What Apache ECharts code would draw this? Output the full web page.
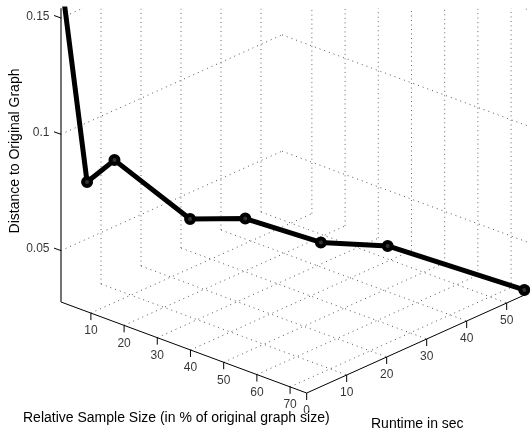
<!DOCTYPE html>
<html>
<head>
<meta charset="utf-8">
<title>Distance to Original Graph</title>
<script src="https://cdn.jsdelivr.net/npm/echarts@6/dist/echarts.min.js"></script>
<style>
	* { margin: 0; padding: 0 }
	html, body { width: 100%; height: 100%; background: #fff; }
	#main { width: 530px; height: 432px; }
</style>
</head>
<body>
<div id="main"></div>
<script>
var sampleSize = [1, 5, 10, 20, 30, 40, 50, 75];
var runtime = [0.5, 3.2, 5.9, 16.5, 22, 32.6, 41, 54.4];
var distance = [0.1604, 0.0791, 0.0891, 0.0609, 0.0621, 0.0489, 0.0462, 0.0301];

var xTicks = [10, 20, 30, 40, 50, 60, 70];
var yTicks = [0, 10, 20, 30, 40, 50];
var zTicks = [0.05, 0.1, 0.15];
var xRange = [1, 75];
var yRange = [0, 55.25];
var zRange = [0.0279, 0.1604];

var xTitle = 'Relative Sample Size (in % of original graph size)';
var yTitle = 'Runtime in sec';
var zTitle = 'Distance to Original Graph';

// the view is a fixed oblique projection, matlab style
function project(x, y, z) {
	return [
		61 + (x - xRange[0]) * 3.32 + y * 4,
		302 + (x - xRange[0]) * 1.23 - y * 1.8 - (z - zRange[0]) * 2326
	];
}

var series = [];

function addLine(a, b, style, z) {
	series.push({
		type: 'line',
		data: [a, b],
		showSymbol: false,
		silent: true,
		z: z,
		lineStyle: style
	});
}

function addLabels(items, position) {
	series.push({
		type: 'scatter',
		data: items,
		symbolSize: 1,
		silent: true,
		z: 5,
		itemStyle: { color: 'transparent' },
		label: {
			show: true,
			position: position,
			distance: 0,
			fontFamily: 'Liberation Sans',
			fontSize: 12,
			color: '#000',
			formatter: function(p) { return p.value[2]; }
		}
	});
}

var dots = { color: '#555', width: 1, type: [1, 4] };
var dotsV = { color: '#666', width: 1, type: [1, 3.5] };
var solid = { color: '#000', width: 1 };
var xMin = xRange[0], xMax = xRange[1], yMax = yRange[1], zMin = zRange[0], zMax = zRange[1];

// floor and the two back walls
xTicks.forEach(function(x) {
	addLine(project(x, 0, zMin), project(x, yMax, zMin), dots, 1);
	addLine(project(x, yMax, zMin), project(x, yMax, zMax), dotsV, 1);
});
yTicks.slice(1).forEach(function(y) {
	addLine(project(xMin, y, zMin), project(xMax, y, zMin), dots, 1);
	addLine(project(xMin, y, zMin), project(xMin, y, zMax), dotsV, 1);
});
zTicks.forEach(function(z) {
	addLine(project(xMin, 0, z), project(xMin, yMax, z), dots, 1);
	addLine(project(xMin, yMax, z), project(xMax, yMax, z), dots, 1);
});

// axis lines
addLine(project(xMin, 0, zMin), project(xMax, 0, zMin), solid, 2);
addLine(project(xMax, 0, zMin), project(xMax, yMax, zMin), solid, 2);
addLine(project(xMin, 0, zMin), project(xMin, 0, zMax), { color: '#444', width: 1.5 }, 2);

// ticks and their labels
var xLabels = [], yLabels = [], zLabels = [];
xTicks.forEach(function(x) {
	var p = project(x, 0, zMin);
	addLine(p, [p[0], p[1] + 7], solid, 2);
	xLabels.push([p[0], p[1] + 18, String(x)]);
});
yTicks.forEach(function(y) {
	var p = project(xMax, y, zMin);
	addLine(p, [p[0], p[1] + 7], solid, 2);
	yLabels.push([p[0], p[1] + 18, String(y)]);
});
zTicks.forEach(function(z) {
	var p = project(xMin, 0, z);
	addLine(p, [p[0] - 7, p[1] - 2.5], solid, 2);
	zLabels.push([p[0] - 11, p[1] - 1.5, String(z)]);
});
addLabels(xLabels, 'inside');
addLabels(yLabels, 'inside');
addLabels(zLabels, 'left');

// the measured curve
var curve = sampleSize.map(function(x, i) {
	return project(x, runtime[i], distance[i]);
});
series.push({
	type: 'line',
	data: curve,
	symbol: 'circle',
	symbolSize: 8,
	showAllSymbol: true,
	silent: true,
	z: 10,
	lineStyle: { color: '#000', width: 5 },
	itemStyle: { color: '#333', borderColor: '#000', borderWidth: 4 }
});

var chart = echarts.init(document.getElementById('main'), null, { renderer: 'canvas' });
chart.setOption({
	animation: false,
	backgroundColor: '#fff',
	grid: { left: 0, right: 0, top: 9, bottom: 0 },
	xAxis: { type: 'value', min: 0, max: 530, show: false },
	yAxis: { type: 'value', min: 9, max: 432, inverse: true, show: false },
	series: series,
	graphic: [
		{ type: 'text', left: 23, top: 411, style: { text: xTitle, font: '14px "Liberation Sans"', fill: '#000' } },
		{ type: 'text', left: 371, top: 417, style: { text: yTitle, font: '14px "Liberation Sans"', fill: '#000' } },
		{ type: 'text', x: 15, y: 151, rotation: Math.PI / 2, style: { text: zTitle, font: '14px "Liberation Sans"', fill: '#000', align: 'center', verticalAlign: 'middle' } }
	]
});
</script>
</body>
</html>
